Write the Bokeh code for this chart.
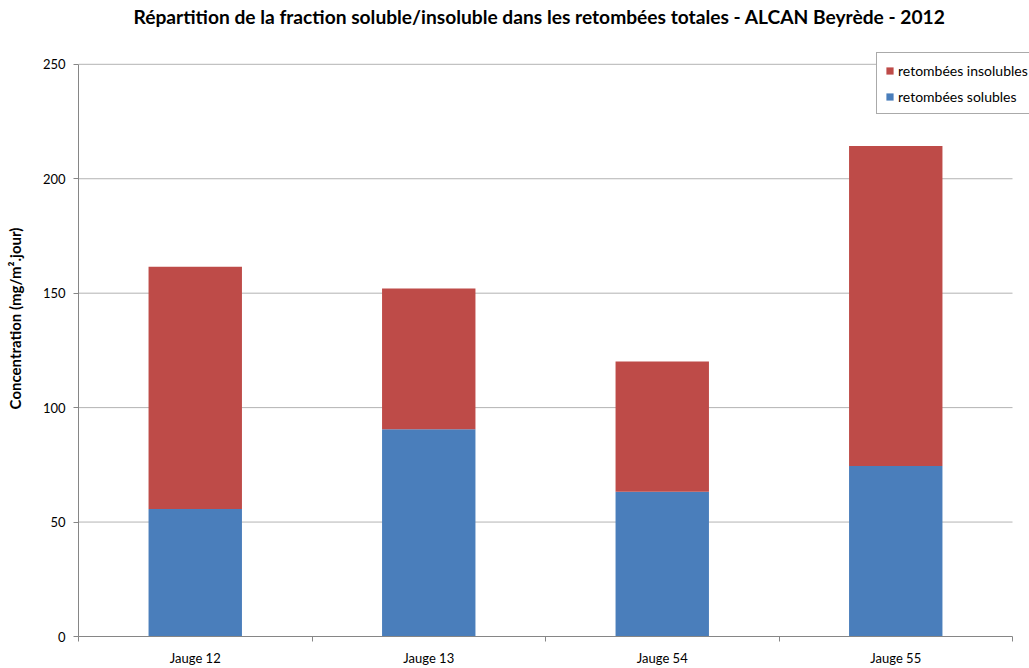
from bokeh.plotting import figure
from bokeh.models import FixedTicker, Legend, LegendItem, Range1d, Label
from bokeh.embed import file_html
from bokeh.resources import INLINE

title_text = "Répartition de la fraction soluble/insoluble dans les retombées totales - ALCAN Beyrède - 2012"
categories = ["Jauge 12", "Jauge 13", "Jauge 54", "Jauge 55"]
solubles = [55.7, 90.6, 63.2, 74.5]
insolubles = [105.9, 61.4, 57.0, 139.8]
y_ticks = [0, 50, 100, 150, 200, 250]

FONT = "Lato"
GRID = "#b3b3b3"
AXIS = "#868686"

n = len(categories)
x = [i + 0.5 for i in range(n)]
tops_sol = solubles
tops_ins = [s + i for s, i in zip(solubles, insolubles)]
y_max = y_ticks[-1]

# plot area (axes) spans x 78..1012, y 64..638; frame extended so legend/title fit inside it
px_per_x = 934 / n
px_per_y = 574 / y_max
x_end = n + 17 / px_per_x
y_end = y_max + 64 / px_per_y

p = figure(width=1029, height=668, output_backend="svg", toolbar_location=None,
           x_range=Range1d(0, x_end), y_range=Range1d(0, y_end),
           min_border_left=78, min_border_right=0, min_border_top=0, min_border_bottom=30)

p.outline_line_color = None
p.background_fill_color = "white"

# horizontal grid lines limited to the plot area
p.xgrid.grid_line_color = None
p.ygrid.grid_line_color = None
p.segment(x0=[0] * (len(y_ticks) - 1), x1=[n] * (len(y_ticks) - 1), y0=y_ticks[1:], y1=y_ticks[1:],
          line_color=GRID, line_width=1)

r_sol = p.vbar(x=x, top=tops_sol, bottom=0, width=0.4, color="#4a7ebb", line_color=None)
r_ins = p.vbar(x=x, top=tops_ins, bottom=tops_sol, width=0.4, color="#be4b48", line_color=None)

# title
p.add_layout(Label(x=461, y=620, x_units="screen", y_units="screen", text=title_text,
                   text_align="center", text_baseline="middle", text_font=FONT,
                   text_font_size="19.2px", text_font_style="bold", text_color="#000000"))

# x axis
p.xaxis.bounds = (0, n)
p.xaxis.ticker = FixedTicker(ticks=x, minor_ticks=list(range(n + 1)))
p.xaxis.major_label_overrides = {xx: c for xx, c in zip(x, categories)}
p.xaxis.major_tick_in = 0
p.xaxis.major_tick_out = 0
p.xaxis.minor_tick_in = 0
p.xaxis.minor_tick_out = 5
p.xaxis.minor_tick_line_color = AXIS
p.xaxis.axis_line_color = AXIS
p.xaxis.major_label_text_font = FONT
p.xaxis.major_label_text_font_size = "13px"
p.xaxis.major_label_text_color = "#000000"
p.xaxis.major_label_standoff = 8

# y axis
p.yaxis.bounds = (0, y_max)
p.yaxis.ticker = FixedTicker(ticks=y_ticks)
p.yaxis.minor_tick_line_color = None
p.yaxis.major_tick_in = 0
p.yaxis.major_tick_out = 5
p.yaxis.major_tick_line_color = AXIS
p.yaxis.axis_line_color = AXIS
p.yaxis.major_label_text_font = FONT
p.yaxis.major_label_text_font_size = "13px"
p.yaxis.major_label_text_color = "#000000"
p.yaxis.major_label_standoff = 8
p.yaxis.axis_label = "Concentration (mg/m².jour)"
p.yaxis.axis_label_text_font = FONT
p.yaxis.axis_label_text_font_size = "15px"
p.yaxis.axis_label_text_font_style = "bold"
p.yaxis.axis_label_text_color = "#000000"
p.yaxis.axis_label_standoff = 16

legend = Legend(items=[LegendItem(label="retombées insolubles", renderers=[r_ins]),
                       LegendItem(label="retombées solubles", renderers=[r_sol])],
                location=(798, 522))
legend.label_text_font = FONT
legend.label_text_font_size = "14px"
legend.label_text_color = "#000000"
legend.glyph_width = 9
legend.glyph_height = 9
legend.label_height = 18
legend.label_standoff = 4
legend.spacing = 8
legend.padding = 8
legend.margin = 0
legend.border_line_color = "#555555"
legend.border_line_width = 1
legend.background_fill_color = "white"
legend.background_fill_alpha = 1
p.add_layout(legend, "center")

open("out.html", "w").write(file_html(p, INLINE))
